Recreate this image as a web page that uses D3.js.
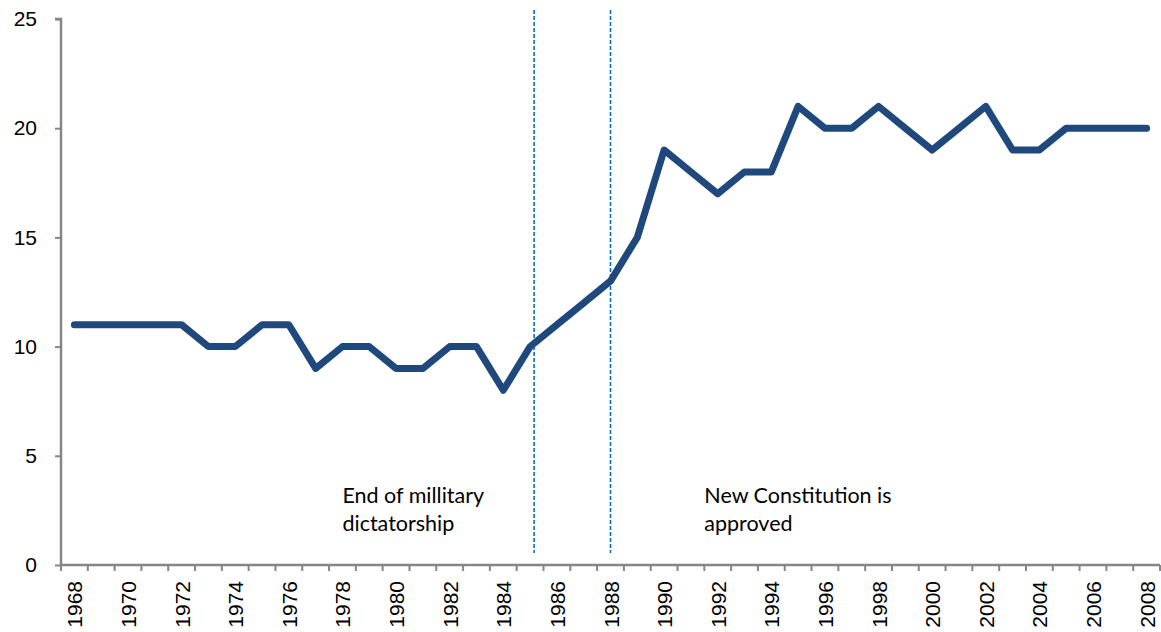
<!DOCTYPE html>
<html><head><meta charset="utf-8">
<script src="https://cdn.jsdelivr.net/npm/d3@7"></script>
<style>body{margin:0;background:#fff}</style></head>
<body><svg id="c" width="1161" height="632"></svg>
<script>
const years = d3.range(1968, 2009);
const values = [11,11,11,11,11,10,10,11,11,9,10,10,9,9,10,10,8,10,11,12,13,15,19,18,17,18,18,21,20,20,21,20,19,20,21,19,19,20,20,20,20];
const yTicks = [0,5,10,15,20,25];
const xTickLabels = d3.range(1968, 2009, 2);
const events = [{year:1985.15, lines:["End of millitary","dictatorship"], tx:1978},
                {year:1988, lines:["New Constitution is","approved"], tx:1991.5}];

(function(){
const svg = d3.select("#c");
const mL = 61, mR = 1160, mT = 19, mB = 565;
const x = d3.scaleLinear().domain([1967.5, 2008.5]).range([mL, mR]);
const y = d3.scaleLinear().domain([0, 25]).range([mB, mT]);
const axisColor = "#868686";

// y axis
const ya = svg.append("g").attr("transform", `translate(${mL},0)`)
  .call(d3.axisLeft(y).tickValues(yTicks).tickSize(6).tickPadding(18));
ya.select(".domain").attr("stroke", axisColor).attr("stroke-width", 2.5).attr("d", `M-6,${mT}H0V${mB}`);
ya.selectAll(".tick line").attr("stroke", axisColor).attr("stroke-width", 2);
ya.selectAll("text").attr("font-family", "Liberation Sans, Arial").attr("font-size", 21).attr("fill", "#000");

// x axis
const boundaries = d3.range(1967.5, 2009.5, 1);
const xa = svg.append("g");
xa.append("line").attr("x1", mL).attr("x2", mR).attr("y1", mB).attr("y2", mB)
  .attr("stroke", axisColor).attr("stroke-width", 2.5);
xa.selectAll("line.tk").data(boundaries).join("line").attr("class","tk")
  .attr("x1", d => x(d)).attr("x2", d => x(d)).attr("y1", mB).attr("y2", mB + 6)
  .attr("stroke", axisColor).attr("stroke-width", 2);
xa.selectAll("text").data(xTickLabels).join("text")
  .attr("transform", d => `translate(${x(d) + 8},${mB + 16}) rotate(-90)`)
  .attr("text-anchor", "end")
  .attr("font-family", "Liberation Sans, Arial").attr("font-size", 21).attr("fill", "#000")
  .text(d => d);

// event lines
svg.selectAll("line.ev").data(events).join("line").attr("class","ev")
  .attr("x1", d => x(d.year)).attr("x2", d => x(d.year)).attr("y1", 10).attr("y2", 553)
  .attr("stroke", "#0070C0").attr("stroke-width", 1.6).attr("stroke-dasharray", "4,2");

const tg = svg.selectAll("text.ev").data(events).join("text").attr("class","ev")
  .attr("font-family", "Lato, Open Sans, sans-serif").attr("font-size", 21.5).attr("fill", "#000");
tg.selectAll("tspan").data(d => d.lines.map((l,i) => ({l, i, tx: d.tx}))).join("tspan")
  .attr("x", d => x(d.tx)).attr("y", d => 503 + d.i * 28).text(d => d.l);

// line
svg.append("path").datum(years.map((yr, i) => [yr, values[i]]))
  .attr("fill", "none").attr("stroke", "#1F497D").attr("stroke-width", 7)
  .attr("stroke-linejoin", "round").attr("stroke-linecap", "round")
  .attr("d", d3.line().x(d => x(d[0])).y(d => y(d[1])));
})();
</script></body></html>
